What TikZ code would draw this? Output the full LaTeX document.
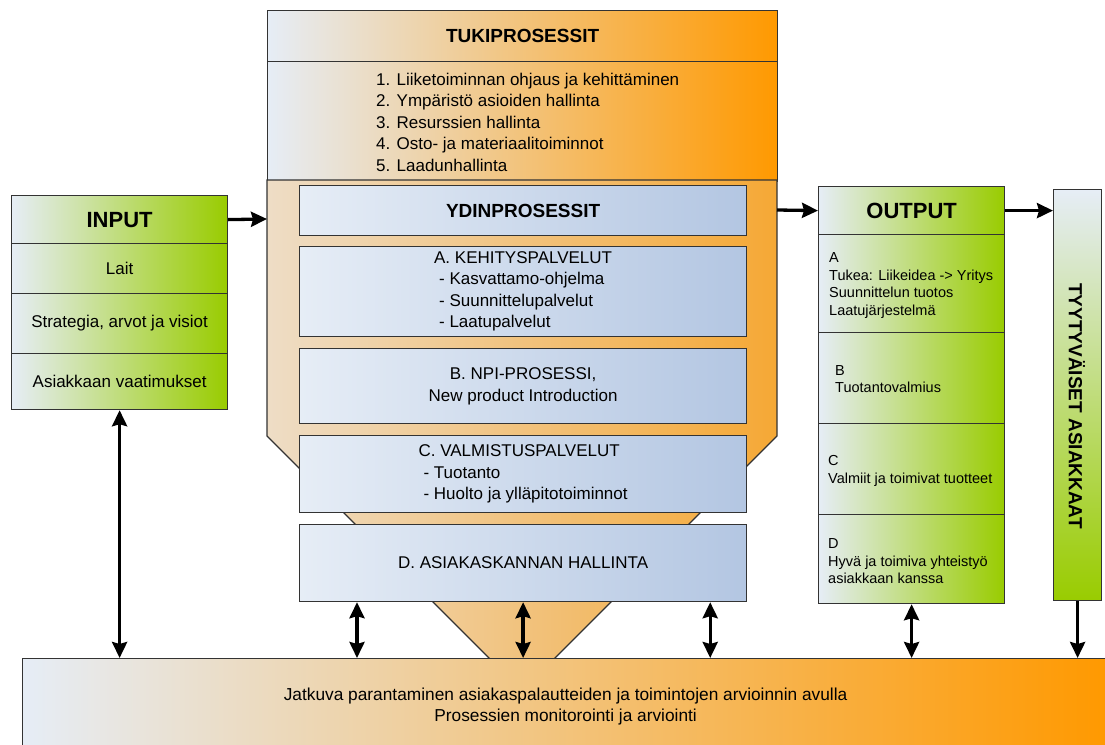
\documentclass[tikz,border=0pt]{standalone}
\usepackage{fontspec}
\setmainfont{Liberation Sans}
\usetikzlibrary{arrows.meta,calc}

\definecolor{paleblue}{HTML}{E6EDF6}
\definecolor{deeporange}{HTML}{FF9900}
\definecolor{leafgreen}{HTML}{99CC00}
\definecolor{steelblue}{HTML}{B3C6E2}
\definecolor{funnelleft}{HTML}{EEDDC6}
\definecolor{funnelright}{HTML}{F5A835}
\definecolor{edgegray}{HTML}{333333}

\newcommand{\bodyfont}{\fontsize{17pt}{21.5pt}\selectfont}
\newcommand{\smallbody}{\fontsize{14.5pt}{17.8pt}\selectfont}
\newcommand{\headfont}{\bfseries\fontsize{19pt}{23pt}\selectfont}
\newcommand{\bigheadfont}{\bfseries\fontsize{22pt}{27pt}\selectfont}

\begin{document}
\begin{tikzpicture}[x=1pt,y=-1pt,
  box/.style={draw=edgegray, line width=1.2pt, inner sep=0pt, rectangle, anchor=north west},
  greenbox/.style={box, left color=paleblue, right color=leafgreen},
  orangebox/.style={box, left color=paleblue, right color=deeporange},
  bluebox/.style={box, left color=paleblue, right color=steelblue, minimum width=447pt},
  arr/.style={line width=3.3pt, -{Stealth[length=16pt,width=15pt,inset=2pt]}},
  darr/.style={line width=3.3pt, {Stealth[length=16pt,width=15pt,inset=2pt]}-{Stealth[length=16pt,width=15pt,inset=2pt]}},
  txt/.style={inner sep=0pt, align=left}
]
\useasboundingbox (0,0) rectangle (1105,744);
\clip (0,0) rectangle (1105,744);

% support processes
\node[orangebox, minimum width=510pt, minimum height=51pt] (tukihead) at (267,10) {\headfont TUKIPROSESSIT};
\node[orangebox, minimum width=510pt, minimum height=120pt] (tukibody) at (267,61) {};
\node[txt, anchor=west, font=\bodyfont] (tukilist) at (376,122)
  {1. Liiketoiminnan ohjaus ja kehittäminen\\
   2. Ympäristö asioiden hallinta\\
   3. Resurssien hallinta\\
   4. Osto- ja materiaalitoiminnot\\
   5. Laadunhallinta};

% funnel behind the core processes
\path[draw=edgegray, line width=1.2pt, left color=funnelleft, right color=funnelright]
  (267,180) -- (777,180) -- (777,436) -- (552,661) -- (492,661) -- (267,436) -- cycle;
\coordinate (funnelW) at (267,219);
\coordinate (funnelE) at (777,210);

% core processes
\node[bluebox, minimum height=50pt] (ydin) at (299,185) {\headfont YDINPROSESSIT};
\node[bluebox, minimum height=90.5pt, font=\bodyfont, align=left] (boxA) at (299,245.5)
  {A. KEHITYSPALVELUT\\
   \hspace*{5pt}- Kasvattamo-ohjelma\\
   \hspace*{5pt}- Suunnittelupalvelut\\
   \hspace*{5pt}- Laatupalvelut};
\node[bluebox, minimum height=75pt, font=\bodyfont, align=center] (boxB) at (299,348)
  {B. NPI-PROSESSI,\\New product Introduction};
\node[bluebox, minimum height=77pt, font=\bodyfont, align=left] (boxC) at (299,435)
  {C. VALMISTUSPALVELUT\\
   \hspace*{5pt}- Tuotanto\\
   \hspace*{5pt}- Huolto ja ylläpitotoiminnot};
\node[bluebox, minimum height=77pt, font=\bodyfont] (boxD) at (299,524)
  {D. ASIAKASKANNAN HALLINTA};

% input
\node[greenbox, minimum width=216pt, minimum height=48pt] (inhead) at (11,195) {\bigheadfont INPUT};
\node[greenbox, minimum width=216pt, minimum height=50pt, font=\bodyfont] (inlaw) at (11,243) {Lait};
\node[greenbox, minimum width=216pt, minimum height=60pt, font=\bodyfont] (instrat) at (11,293) {Strategia, arvot ja visiot};
\node[greenbox, minimum width=216pt, minimum height=56pt, font=\bodyfont] (inreq) at (11,353) {Asiakkaan vaatimukset};

% output
\node[greenbox, minimum width=186pt, minimum height=48pt] (outhead) at (818,186) {\bigheadfont OUTPUT};
\node[greenbox, minimum width=186pt, minimum height=98pt] (outA) at (818,234) {};
\node[greenbox, minimum width=186pt, minimum height=91pt] (outB) at (818,332) {};
\node[greenbox, minimum width=186pt, minimum height=91pt] (outC) at (818,423) {};
\node[greenbox, minimum width=186pt, minimum height=89pt] (outD) at (818,514) {};
\node[txt, anchor=west, font=\smallbody] (outAtxt) at ($(outA.west)+(11,2)$)
  {A\\Tukea: Liikeidea -> Yritys\\Suunnittelun tuotos\\Laatujärjestelmä};
\node[txt, anchor=west, font=\smallbody] (outBtxt) at ($(outB.west)+(17,1)$)
  {B\\Tuotantovalmius};
\node[txt, anchor=west, font=\smallbody] (outCtxt) at ($(outC.west)+(10,2)$)
  {C\\Valmiit ja toimivat tuotteet};
\node[txt, anchor=west, font=\smallbody] (outDtxt) at ($(outD.west)+(10,2)$)
  {D\\Hyvä ja toimiva yhteistyö\\asiakkaan kanssa};

% satisfied customers
\node[box, top color=paleblue, bottom color=leafgreen, minimum width=48pt, minimum height=411pt] (tyyty) at (1053,189) {};
\node[inner sep=0pt, rotate=-90, font=\headfont] (tyytytxt) at (1077,406) {TYYTYVÄISET ASIAKKAAT};

% continuous improvement
\node[orangebox, minimum width=1086pt, minimum height=96pt, font=\fontsize{17.3pt}{21.5pt}\selectfont, align=center] (bar) at (22,658)
  {Jatkuva parantaminen asiakaspalautteiden ja toimintojen arvioinnin avulla\\
   Prosessien monitorointi ja arviointi};

% connectors
\draw[arr] (inhead.east) -- (funnelW);
\draw[arr] (funnelE) -- (outhead.west);
\draw[arr] (outhead.east) -- (outhead.east -| tyyty.west);

\coordinate (dleft) at ($(boxD.south west)+(58,0)$);
\coordinate (dright) at ($(boxD.south east)+(-37,0)$);
\draw[darr] (inreq.south) -- (inreq.south |- bar.north);
\draw[darr] (dleft) -- (dleft |- bar.north);
\draw[darr] (boxD.south) -- (boxD.south |- bar.north);
\draw[darr] (dright) -- (dright |- bar.north);
\draw[darr] (outD.south) -- (outD.south |- bar.north);
\draw[arr] (tyyty.south) -- (tyyty.south |- bar.north);
\end{tikzpicture}
\end{document}
